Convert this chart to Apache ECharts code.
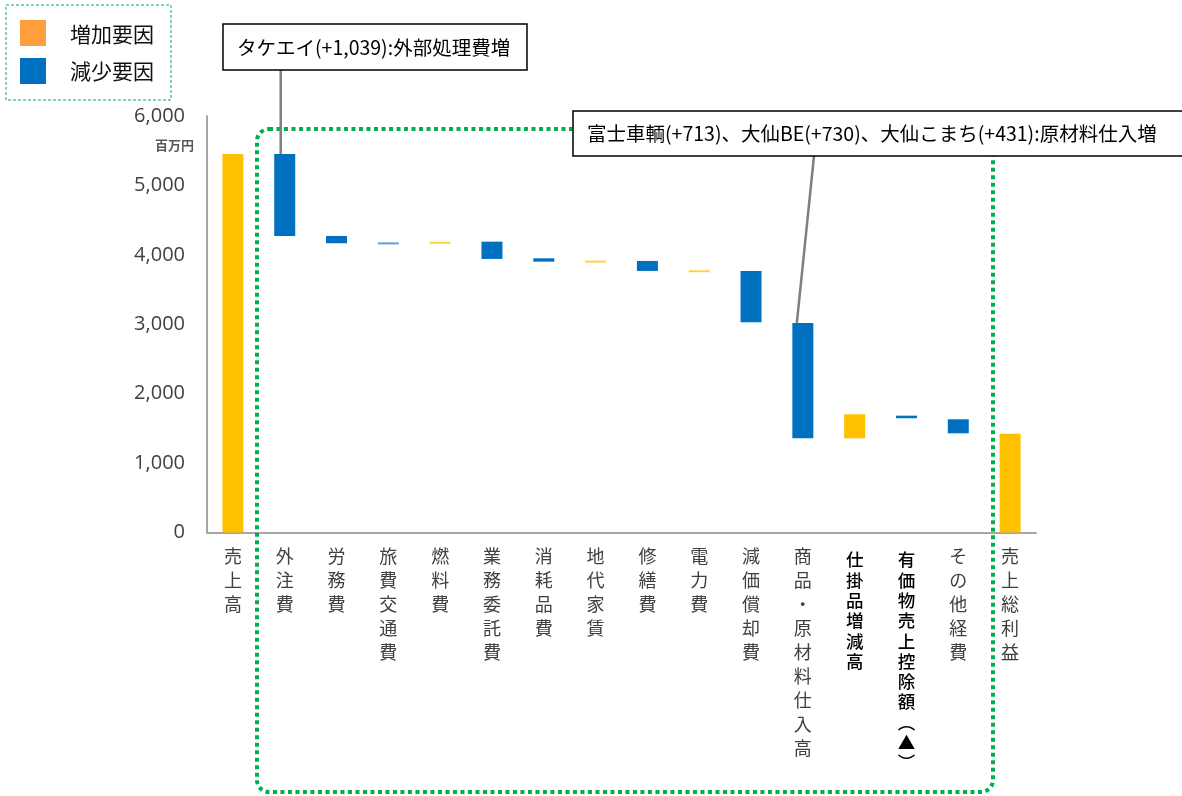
<!DOCTYPE html>
<html><head><meta charset="utf-8">
<script src="https://cdn.jsdelivr.net/npm/echarts@6/dist/echarts.min.js"></script>
<style>html,body{margin:0;padding:0;background:#fff;}#c{width:1182px;height:796px;}</style>
</head><body><div id="c"></div>
<script>
// ---- data (百万円) ----
const categories = ['売上高','外注費','労務費','旅費交通費','燃料費','業務委託費','消耗品費','地代家賃','修繕費','電力費','減価償却費','商品・原材料仕入高','仕掛品増減高','有価物売上控除額︵▲︶','その他経費','売上総利益'];
const barLow  = [0,    4272, 4167, 4150, 4160, 3941, 3902, 3888, 3768, 3750, 3029, 1357, 1357, 1646, 1429, 0];
const barHigh = [5454, 5454, 4272, 4180, 4188, 4190, 3950, 3916, 3912, 3778, 3768, 3019, 1703, 1683, 1631, 1424];
const factorType = ['total','dec','dec','dec','inc','dec','dec','inc','dec','inc','dec','dec','inc','dec','dec','total'];
const yMin = 0, yMax = 6000, yStep = 1000;
const unitLabel = '百万円';
const legendNames = ['増加要因','減少要因'];
const noteTexts = ['タケエイ(+1,039):外部処理費増', '富士車輌(+713)、大仙BE(+730)、大仙こまち(+431):原材料仕入増'];
const noteTargets = [1, 11];
const boldLabels = [12, 13];

// ---- styling ----
const JP = '"Noto Sans CJK JP", "Noto Sans", sans-serif';
const YELLOW = '#FFC000', BLUE = '#0070C0', ORANGE = '#FF9E3D', GREEN = '#00B050';
function colorOf(i) {
  const thin = (barHigh[i] - barLow[i]) < 35;
  if (factorType[i] === 'dec') return thin ? '#6F9CD3' : BLUE;
  return thin ? '#FFD23F' : YELLOW;
}

const chart = echarts.init(document.getElementById('c'));
chart.setOption({
  animation: false,
  grid: { left: 207, right: 146, top: 116, bottom: 263.5, containLabel: false },
  xAxis: {
    type: 'category', data: categories,
    axisTick: { show: false },
    axisLine: { lineStyle: { color: '#A6A6A6', width: 2 } },
    axisLabel: {
      interval: 0, margin: 12, color: '#404040', fontSize: 18, lineHeight: 24, fontFamily: JP,
      formatter: (v, i) => {
        const chars = Array.from(v);
        if (boldLabels.includes(i)) return '{s| }\n' + chars.map(c => '{b|' + c + '}').join('\n');
        return chars.join('\n');
      },
      rich: {
        b: { fontSize: 17.5, lineHeight: 20.3, color: '#000', fontWeight: 500, fontFamily: JP },
        s: { fontSize: 1, lineHeight: 5 }
      }
    }
  },
  yAxis: {
    type: 'value', min: yMin, max: yMax, interval: yStep,
    splitLine: { show: false },
    axisLine: { show: true, lineStyle: { color: '#A6A6A6', width: 2 } },
    axisTick: { show: false },
    axisLabel: { margin: 22, color: '#404040', fontSize: 20, fontFamily: '"Open Sans", sans-serif',
      formatter: v => v.toLocaleString('en-US') }
  },
  series: [
    { type: 'bar', stack: 'w', barWidth: 21, silent: true,
      itemStyle: { color: 'transparent' },
      data: barLow },
    { type: 'bar', stack: 'w', barWidth: 21,
      data: barHigh.map((h, i) => ({ value: h - barLow[i], itemStyle: { color: colorOf(i) } })) }
  ]
});

// annotation leader end points computed from the axes
const p1 = chart.convertToPixel({ xAxisIndex: 0, yAxisIndex: 0 }, [noteTargets[0], barHigh[noteTargets[0]]]);
const p2 = chart.convertToPixel({ xAxisIndex: 0, yAxisIndex: 0 }, [noteTargets[1], barHigh[noteTargets[1]]]);

chart.setOption({
  graphic: [
    // legend
    { type: 'rect', z: 10, shape: { x: 6, y: 5, width: 165, height: 95 },
      style: { fill: 'none', stroke: GREEN, lineWidth: 1, lineDash: [3, 2] } },
    { type: 'rect', z: 10, shape: { x: 20, y: 20, width: 26, height: 26 }, style: { fill: ORANGE } },
    { type: 'rect', z: 10, shape: { x: 20, y: 58, width: 26, height: 26 }, style: { fill: BLUE } },
    { type: 'text', z: 10, style: { text: legendNames[0], x: 70, y: 34, font: '21px ' + JP, fill: '#111', textVerticalAlign: 'middle' } },
    { type: 'text', z: 10, style: { text: legendNames[1], x: 70, y: 71, font: '21px ' + JP, fill: '#111', textVerticalAlign: 'middle' } },
    // unit
    { type: 'text', z: 10, style: { text: unitLabel, x: 194, y: 145, font: 'bold 13px ' + JP, fill: '#595959', textAlign: 'right', textVerticalAlign: 'middle' } },
    // green dotted frame
    { type: 'rect', z: 10, shape: { x: 257, y: 129, width: 736, height: 663, r: 12 },
      style: { fill: 'none', stroke: GREEN, lineWidth: 4, lineDash: [4, 3.5] } },
    // leader lines
    { type: 'line', z: 11, shape: { x1: p1[0] - 4, y1: 70, x2: p1[0] - 4, y2: p1[1] },
      style: { stroke: '#7F7F7F', lineWidth: 2.5 } },
    { type: 'line', z: 11, shape: { x1: 814, y1: 156, x2: p2[0] - 6, y2: p2[1] },
      style: { stroke: '#7F7F7F', lineWidth: 2.5 } },
    // note boxes
    { type: 'rect', z: 12, shape: { x: 223, y: 24, width: 304, height: 46 },
      style: { fill: '#fff', stroke: '#000', lineWidth: 1.5 } },
    { type: 'text', z: 13, style: { text: noteTexts[0], x: 237, y: 47.5, font: '19.5px ' + JP, fill: '#000', textVerticalAlign: 'middle' } },
    { type: 'rect', z: 12, shape: { x: 573, y: 111, width: 620, height: 45 },
      style: { fill: '#fff', stroke: '#000', lineWidth: 1.5 } },
    { type: 'text', z: 13, style: { text: noteTexts[1], x: 587, y: 134, font: '19.5px ' + JP, fill: '#000', textVerticalAlign: 'middle' } }
  ]
});
</script></body></html>
